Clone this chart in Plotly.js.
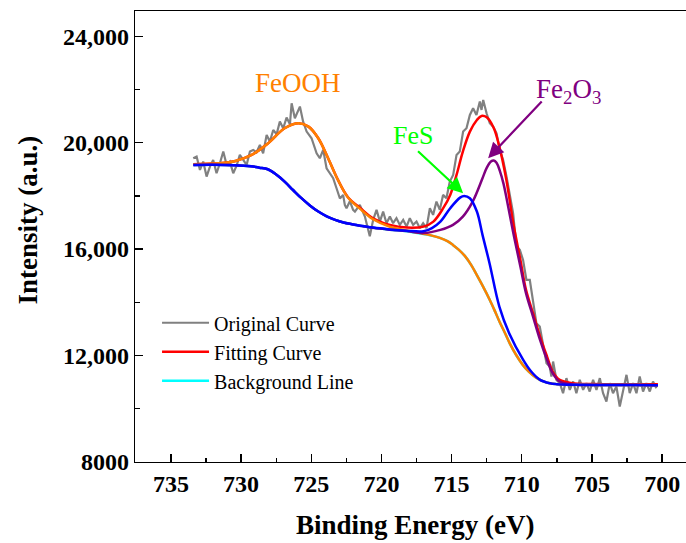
<!DOCTYPE html>
<html>
<head>
<meta charset="utf-8">
<script src="https://cdn.plot.ly/plotly-3.0.1.min.js"></script>
<style>html,body{margin:0;padding:0;background:#fff;}#chart{width:686px;height:543px;}</style>
</head>
<body>
<div id="chart"></div>
<script>
// ---- data ----
const xOrig = [733.41,733.17,732.93,732.70,732.46,732.22,731.99,731.75,731.51,731.27,731.03,730.80,730.56,730.32,730.09,729.85,729.61,729.37,729.14,728.90,728.66,728.43,728.18,727.95,727.71,727.47,727.24,727.00,726.76,726.52,726.40,726.17,725.81,725.58,725.33,724.98,724.62,724.39,724.15,723.91,723.68,723.44,723.20,722.96,722.73,722.61,722.49,722.25,722.02,721.89,721.54,721.18,720.83,720.59,720.35,720.11,719.88,719.64,719.40,719.17,718.93,718.69,718.45,718.21,717.98,717.74,717.50,717.26,717.03,716.79,716.55,716.32,716.08,715.84,715.61,715.37,715.13,714.89,714.65,714.42,714.18,713.94,713.70,713.47,713.23,712.99,712.87,712.75,712.51,712.28,712.04,711.80,711.57,711.33,711.09,710.85,710.62,710.38,710.14,709.91,709.67,709.43,709.20,708.96,708.72,708.48,708.24,708.01,707.89,707.77,707.53,707.29,707.06,706.82,706.58,706.34,706.11,705.87,705.63,705.39,705.16,704.92,704.68,704.44,704.21,703.97,703.73,703.50,703.26,703.02,702.78,702.54,702.31,702.07,701.83,701.60,701.36,701.12,700.88,700.65,700.41];
const yOrig = [19413,19476,18975,19288,18725,19100,19350,18850,19225,19664,19163,19288,18850,19138,19538,19350,19163,19664,19726,19639,19914,19601,20290,20039,20477,20315,20790,20540,20941,20690,21479,20916,21354,20790,20415,20164,19601,19413,19726,19038,18850,18662,18286,17900,18036,17660,17535,17800,17473,17410,17660,17222,16480,17097,17473,17034,17410,16972,17222,16972,17160,16909,17097,16846,17160,16909,17034,16784,16972,16784,17535,17285,17786,17473,18036,17911,18537,18787,19538,19664,20415,20540,21041,21291,21041,21542,21229,21604,21103,20728,20602,20352,19726,19350,18724,17973,17347,16095,15970,15594,14843,14843,13967,13216,13090,12339,11713,11588,11212,11776,11087,10962,10586,11150,10712,11025,10586,11087,10712,10962,10649,11087,10712,11150,10586,10274,10962,10586,10837,10086,10712,11275,10586,10962,10586,11212,10649,10962,10649,11025,10775];

const xFit = [733.4,731.6,730.4,729.25,728.07,726.9,725.9,725.2,724.5,723.8,723.1,722.4,721.5,720.6,719.4,718.2,717.0,716.3,715.6,715.1,714.65,714.2,713.7,713.2,712.87,712.5,712.0,711.6,711.1,710.6,710.1,709.7,709.2,708.7,708.2,707.8,707.3,706.4,705.0,702.0,700.3];
const yFit = [19189,19226,19313,19538,19977,20541,20729,20601,20165,19414,18599,17960,17536,17160,16909,16808,16845,17033,17536,18036,18787,19662,20413,20853,21003,20950,20550,19850,18600,16950,15594,14467,13592,12714,11962,11399,11087,10963,10930,10920,10920];

const xBg = [733.4,732.0,730.5,729.3,728.7,728.1,727.5,726.9,726.3,725.7,725.1,724.5,723.9,723.3,722.7,722.1,721.3,720.6,719.4,718.2,717.0,716.4,715.84,715.3,714.91,714.5,714.06,713.6,713.21,712.75,712.28,711.9,711.57,711.2,710.85,710.4,709.93,709.5,709.0,708.5,708.0,707.51,706.8,706.23,704.0,702.0,700.3];
const yBg = [19160,19165,19150,19110,19060,19000,18800,18535,18220,17912,17640,17410,17230,17097,17000,16935,16860,16800,16730,16670,16566,16500,16420,16300,16158,15980,15745,15400,15030,14580,14090,13650,13250,12850,12450,12020,11650,11400,11180,11040,10960,10925,10905,10900,10895,10890,10885];

const xFeOOH = [733.4,731.6,730.4,729.25,728.07,726.9,725.9,725.2,724.5,723.8,723.1,722.4,721.5,720.6,719.4,718.2,717.0,716.4,715.84,715.3,714.91,714.5,714.06,713.6,713.21,712.75,712.28,711.9,711.57,711.2,710.85,710.4,709.93,709.5,709.0,708.5,708.0,707.51,706.8,706.23,704.0,702.0,700.3];
const yFeOOH = [19189,19226,19313,19538,19977,20541,20729,20601,20165,19414,18599,17950,17500,17120,16840,16700,16575,16505,16420,16300,16158,15980,15745,15400,15030,14580,14090,13650,13250,12850,12450,12020,11650,11400,11180,11040,10960,10925,10905,10900,10895,10890,10885];

const xFeS = [733.4,732.0,730.5,729.3,728.7,728.1,727.5,726.9,726.3,725.7,725.1,724.5,723.9,723.3,722.7,722.1,721.3,720.6,719.4,718.2,717.0,716.4,715.8,715.1,714.4,714.1,713.7,713.2,712.8,712.3,711.6,710.9,709.9,709.3,708.7,708.0,707.5,706.8,706.2,704.0,702.0,700.3];
const yFeS = [19160,19165,19150,19110,19060,19000,18800,18535,18220,17912,17640,17410,17230,17097,17000,16935,16865,16807,16740,16690,16670,16790,17033,17536,17934,17998,17912,17410,16533,15470,13840,12841,11838,11380,11087,10960,10925,10905,10900,10895,10890,10885];

const xFe2O3 = [733.4,732.0,730.5,729.3,728.7,728.1,727.5,726.9,726.3,725.7,725.1,724.5,723.9,723.3,722.7,722.1,721.3,720.6,719.4,718.2,717.0,715.8,714.9,714.2,713.5,712.8,712.5,712.2,712.0,711.8,711.57,711.3,711.1,710.6,710.1,709.7,709.2,708.7,708.2,707.8,707.3,706.4,704.0,702.0,700.3];
const yFe2O3 = [19160,19165,19150,19110,19060,19000,18800,18535,18220,17912,17640,17410,17230,17097,17000,16935,16860,16800,16730,16675,16600,16721,16909,17220,17784,18663,19050,19290,19330,19240,18950,18450,17950,16597,15343,14343,13465,12589,11838,11339,11023,10910,10895,10890,10885];

const yTickVals = [8000,12000,16000,20000,24000];
const yTickText = ['8000','12,000','16,000','20,000','24,000'];
const yMinorVals = [10000,14000,18000,22000];
const xTickVals = [735,730,725,720,715,710,705,700];
const xMinorVals = [737.5,732.5,727.5,722.5,717.5,712.5,707.5,702.5];

const seriesNames = ['Original Curve','Fitting Curve','Background Line'];
const peakLabels = {feooh:'FeOOH', fes:'FeS', fe2o3:'Fe<sub>2</sub>O<sub>3</sub>'};

// ---- drawing ----
const FONT = 'Liberation Serif, Times New Roman, serif';
const SM = 1.0;
const traces = [
  {x:xOrig, y:yOrig, name:seriesNames[0], mode:'lines', line:{color:'#808080', width:2.2}},
  {x:xFit, y:yFit, name:seriesNames[1], mode:'lines', line:{color:'#FF0000', width:2.5, shape:'spline', smoothing:SM}},
  {x:xBg, y:yBg, name:seriesNames[2], mode:'lines', line:{color:'#00FFFF', width:2.5, shape:'spline', smoothing:SM}},
  {x:xFeOOH, y:yFeOOH, showlegend:false, mode:'lines', line:{color:'#FF8000', width:2.5, shape:'spline', smoothing:SM}},
  {x:xFe2O3, y:yFe2O3, showlegend:false, mode:'lines', line:{color:'#800080', width:2.5, shape:'spline', smoothing:SM}},
  {x:xFeS, y:yFeS, showlegend:false, mode:'lines', line:{color:'#0000FF', width:2.5, shape:'spline', smoothing:SM}}
];

const layout = {
  width:686, height:543,
  margin:{l:135, r:0, t:11, b:81},
  paper_bgcolor:'#fff', plot_bgcolor:'#fff',
  showlegend:true,
  legend:{x:0.04, y:0.352, xanchor:'left', yanchor:'top', bgcolor:'rgba(0,0,0,0)',
          font:{family:FONT, size:20, color:'#000'}, itemwidth:47, tracegroupgap:0},
  xaxis:{range:[737.56,698.3], autorange:false, showgrid:false, zeroline:false,
         showline:true, linecolor:'#000', linewidth:1.3, mirror:true,
         ticks:'inside', ticklen:8, tickwidth:1.3, tickcolor:'#000',
         tickmode:'array', tickvals:xTickVals, ticktext:xTickVals.map(String),
         tickfont:{family:FONT, size:24, color:'#000', weight:'bold'},
         minor:{ticks:'inside', ticklen:4, tickwidth:1.3, tickcolor:'#000', tickmode:'array', tickvals:xMinorVals}},
  yaxis:{range:[8000,24946], autorange:false, showgrid:false, zeroline:false,
         showline:true, linecolor:'#000', linewidth:1.3,
         ticks:'inside', ticklen:8, tickwidth:1.3, tickcolor:'#000',
         tickmode:'array', tickvals:yTickVals, ticktext:yTickText,
         tickfont:{family:FONT, size:24, color:'#000', weight:'bold'},
         minor:{ticks:'inside', ticklen:5, tickwidth:1.3, tickcolor:'#000', tickmode:'array', tickvals:yMinorVals}},
  annotations:[
    {x:725.95, y:22242, xref:'x', yref:'y', text:peakLabels.feooh, showarrow:false,
     font:{family:FONT, size:27, color:'#FF8000'}},
    {x:717.76, y:20278, xref:'x', yref:'y', text:peakLabels.fes, showarrow:false,
     font:{family:FONT, size:26, color:'#00FF00'}},
    {x:706.64, y:21950, xref:'x', yref:'y', text:peakLabels.fe2o3, showarrow:false,
     font:{family:FONT, size:27, color:'#800080'}},
    {x:714.18, y:18100, xref:'x', yref:'y', ax:717.50, ay:19726, axref:'x', ayref:'y',
     text:'', showarrow:true, arrowhead:2, arrowsize:1.4, arrowwidth:2.2, arrowcolor:'#00FF00'},
    {x:712.40, y:19414, xref:'x', yref:'y', ax:708.48, ay:21604, axref:'x', ayref:'y',
     text:'', showarrow:true, arrowhead:2, arrowsize:1.4, arrowwidth:2.2, arrowcolor:'#800080'},
    {x:0.5095, y:-0.1397, xref:'paper', yref:'paper', xanchor:'center', yanchor:'middle',
     text:'Binding Energy (eV)', showarrow:false, font:{family:FONT, size:27, color:'#000', weight:'bold'}},
    {x:-0.1933, y:0.5366, xref:'paper', yref:'paper', xanchor:'center', yanchor:'middle', textangle:-90,
     text:'Intensity (a.u.)', showarrow:false, font:{family:FONT, size:27, color:'#000', weight:'bold'}}
  ]
};

Plotly.newPlot('chart', traces, layout, {displayModeBar:false, staticPlot:true});
</script>
</body>
</html>
